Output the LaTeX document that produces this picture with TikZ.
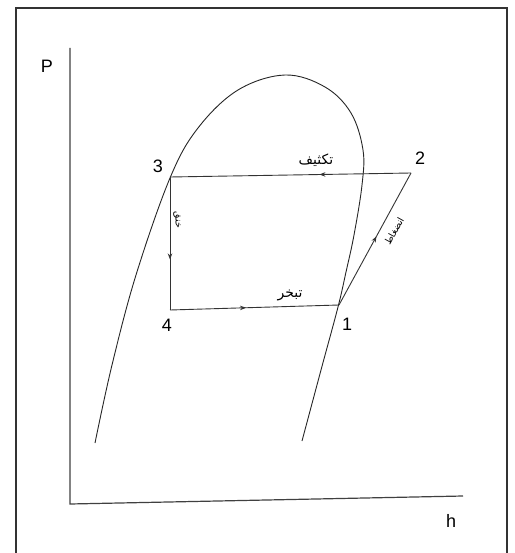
\documentclass[tikz,border=0pt]{standalone}
\usepackage{fontspec}
\setmainfont{Liberation Sans}
\newfontfamily\arabicfont[Script=Arabic]{DejaVu Sans}
\TeXXeTstate=1
\usetikzlibrary{arrows.meta,decorations.markings}
\begin{document}
\begin{tikzpicture}[x=1pt,y=-1pt,
  curve/.style={line width=0.9pt,black!85},
  cyc/.style={line width=0.9pt,black!80},
  midarrow/.style={postaction={decorate},decoration={markings,mark=at position #1 with {\arrow{Stealth[length=6pt,width=4.5pt]}}}},
  ptlabel/.style={font=\fontsize{18}{18}\selectfont,inner sep=0pt},
  arlabel/.style={font=\arabicfont\fontsize{14}{14}\selectfont,inner sep=0pt},
  arsmall/.style={font=\arabicfont\fontsize{9.5}{9.5}\selectfont,inner sep=0pt}]
\useasboundingbox (0,0) rectangle (514,553);
\clip (0,0) rectangle (514,553);
% frame
\draw[line width=1.8pt,black!80] (16,560) -- (16,8) -- (507,8) -- (507,560);
% axes
\coordinate (ptop) at (70,48);
\coordinate (origin) at (70,504);
\coordinate (hend) at (463,496);
\draw[line width=1.2pt,black!75] (ptop) -- (origin) -- (hend);
\node[ptlabel] (P) at (47,66) {P};
\node[ptlabel] (h) at (451,521) {h};
% saturation dome
\draw[curve] plot[smooth,tension=0.6] coordinates {(95,443) (112,365) (136,275) (170,178) (198,128) (238,90) (285,75) (325,87) (351,113) (363,150) (362,185) (354,235) (346,272) (338,307) (321,370) (302,441)};
% cycle points
\coordinate (p1) at (339,305);
\coordinate (p2) at (411,173);
\coordinate (p3) at (170,177);
\coordinate (p4) at (170,310);
\draw[cyc,midarrow=0.38] (p2) -- (p3);
\draw[cyc,midarrow=0.62] (p3) -- (p4);
\draw[cyc,midarrow=0.45] (p4) -- (p1);
\draw[cyc,midarrow=0.52] (p1) -- (p2);
% point labels
\node[ptlabel] (l3) at (158,166) {3};
\node[ptlabel] (l2) at (420,158) {2};
\node[ptlabel] (l1) at (347,324) {1};
\node[ptlabel] (l4) at (167,325) {4};
% process labels
\node[arlabel] (cond) at (316,160) {\beginR تكثيف\endR};
\node[arlabel] (evap) at (290,295) {\beginR تبخر\endR};
\node[arsmall,rotate=61] (comp) at (394,231) {\beginR انضغاط\endR};
\node[arsmall,rotate=-90] (thr) at (177,220) {\beginR خنق\endR};
\end{tikzpicture}
\end{document}
